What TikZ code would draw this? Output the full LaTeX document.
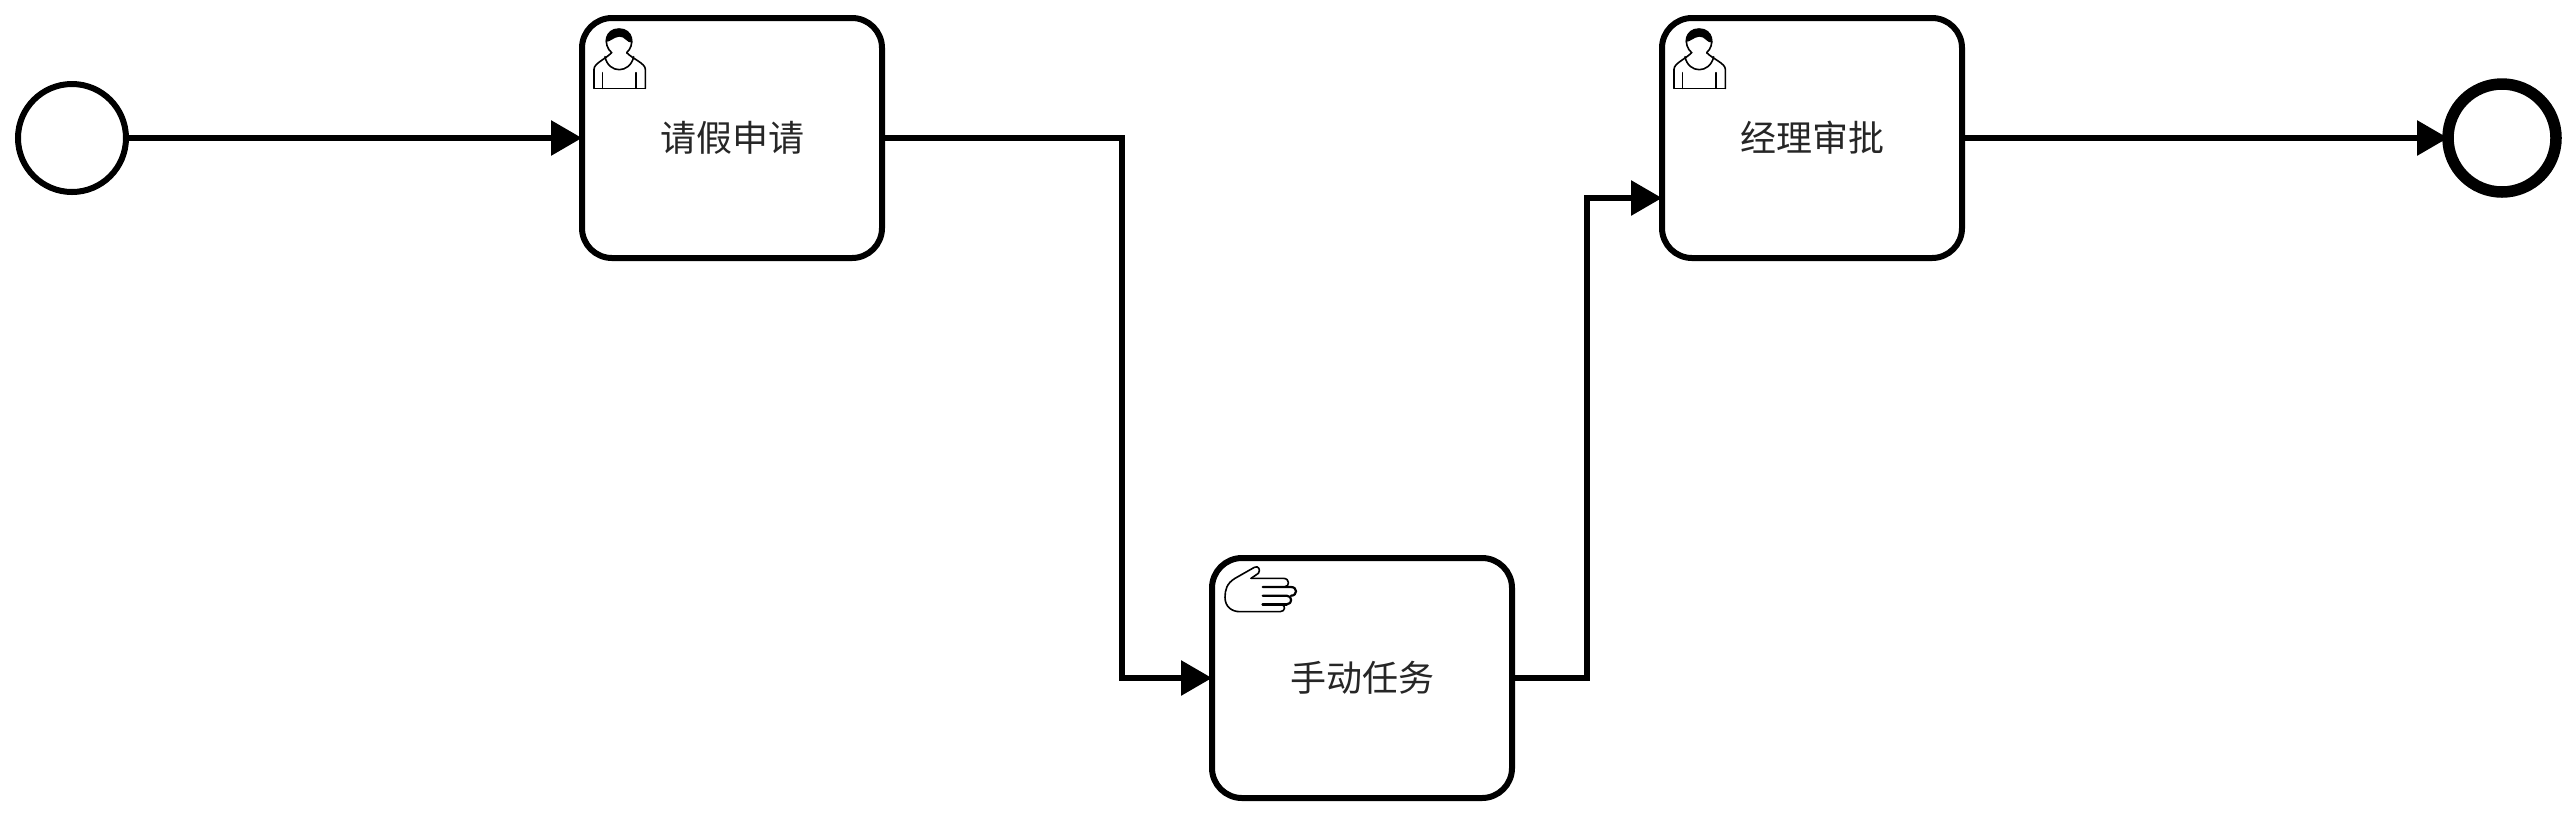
\documentclass[tikz,border=0pt]{standalone}
\usepackage{fontspec}
\newfontfamily\cjk{Noto Sans CJK SC}
\usetikzlibrary{arrows.meta}
\tikzset{
  taskbox/.style={draw=black,line width=3pt,fill=white,rounded corners=15pt,minimum width=150pt,minimum height=120pt,inner sep=0pt,outer sep=0pt,font=\cjk\fontsize{18}{18}\selectfont,text=black!85},
  startev/.style={circle,draw=black,line width=3pt,fill=white,minimum size=54pt,inner sep=0pt,outer sep=0pt},
  endev/.style={circle,draw=black,line width=5.75pt,fill=white,minimum size=54pt,inner sep=0pt,outer sep=0pt},
  flow/.style={draw=black,line width=3pt,-{Triangle[length=15.5pt,width=17pt]}},
  iconline/.style={draw=black,line width=0.8pt,line cap=round,line join=round}
}
\newcommand{\personicon}[2]{%
  \begin{scope}[shift={(#1,#2)},x=0.16667pt,y=-0.16667pt]
    \draw[iconline] (125,158) .. controls (98,135) and (105,87) .. (147,87) .. controls (189,87) and (196,135) .. (170,158);
    \fill[black] (107,125) .. controls (107,100) and (125,87) .. (147,87) .. controls (170,87) and (187,102) .. (187,128) .. controls (170,130) and (165,108) .. (147,110) .. controls (130,112) and (118,128) .. (107,125) -- cycle;
    \draw[iconline] (72,265) -- (72,208) .. controls (72,190) and (105,178) .. (125,158);
    \draw[iconline] (226,265) -- (226,208) .. controls (226,190) and (190,178) .. (170,158);
    \draw[iconline] (72,265) -- (226,265);
    \draw[iconline] (105,170) .. controls (115,222) and (180,222) .. (191,170);
    \draw[iconline] (98,218) -- (98,265);
    \draw[iconline] (198,218) -- (198,265);
  \end{scope}}
\begin{document}
\begin{tikzpicture}[x=0.5pt,y=-0.5pt]
  \useasboundingbox (0,0) rectangle (2574,816);
  \node[startev] (start) at (72,138) {};
  \node[taskbox] (apply) at (732,138) {\raisebox{2pt}{请假申请}};
  \node[taskbox] (manual) at (1362,678) {\raisebox{2pt}{手动任务}};
  \node[taskbox] (approve) at (1812,138) {\raisebox{2pt}{经理审批}};
  \node[endev] (finish) at (2502,138) {};
  \coordinate (v1) at (1122,400);
  \coordinate (v2) at (1587,400);
  \coordinate (in3) at ([yshift=-30pt]approve.west);
  \draw[flow] (start.east) -- (apply.west);
  \draw[flow] (apply.east) -| (v1) |- (manual.west);
  \draw[flow] (manual.east) -| (v2) |- (in3);
  \draw[flow] (approve.east) -- (finish.west);
  \personicon{570}{0}
  \personicon{1650}{0}
  \begin{scope}[shift={(1215,560)},x=0.16667pt,y=-0.16667pt]
    \draw[iconline] (108,55) -- (130,40) .. controls (138,30) and (130,15) .. (118,22) -- (60,55) .. controls (35,70) and (30,90) .. (30,112) .. controls (30,140) and (50,155) .. (75,155) -- (195,155) .. controls (212,155) and (212,135) .. (200,134);
    \draw[iconline] (108,55) -- (205,55) .. controls (225,55) and (225,80) .. (208,81);
    \draw[iconline,line width=1.1pt] (143,81) -- (228,81) .. controls (248,81) and (248,107) .. (228,107);
    \draw[iconline,line width=1.1pt] (143,107) -- (215,107) .. controls (233,107) and (233,133) .. (215,133);
    \draw[iconline,line width=1.4pt] (143,133) -- (215,133);
  \end{scope}
\end{tikzpicture}
\end{document}
